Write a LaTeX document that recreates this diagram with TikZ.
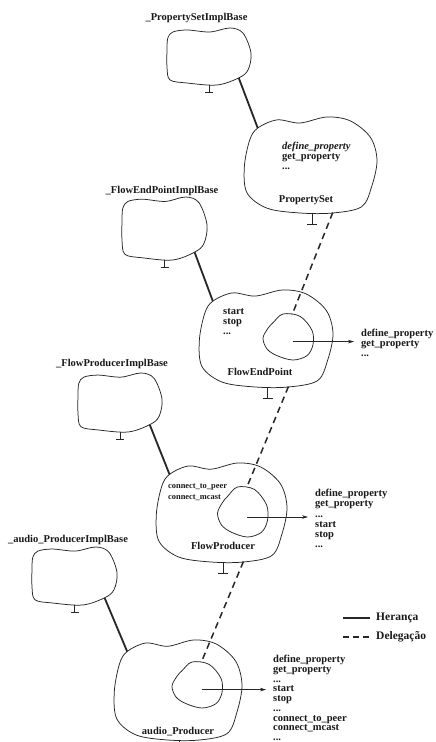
\documentclass[tikz,border=0pt]{standalone}
\usepackage{fontspec}
\setmainfont{Liberation Serif}
\usetikzlibrary{arrows.meta}

\newcommand\lbl{\bfseries\fontsize{10.5}{10.1}\selectfont}
\newcommand\tightlbl{\bfseries\fontsize{10.5}{9.7}\selectfont}
\newcommand\smalllbl{\bfseries\fontsize{8.4}{11}\selectfont}
\newcommand\leglbl{\bfseries\fontsize{11.5}{12}\selectfont}

\tikzset{
  every node/.style={inner sep=0pt, font=\lbl, text=black!90},
  cloudline/.style={line width=0.75pt, black!85},
  inherit/.style={line width=1.8pt, black!85},
  deleg/.style={line width=1.5pt, dash pattern=on 6.5pt off 4.5pt, black!85},
  tickmark/.style={line width=0.7pt, black!85},
  export/.style={line width=0.7pt, black!85, -{Stealth[length=6pt,width=3.6pt]}, shorten >=7pt},
}

% base class: small blob with a tick below
\newcommand\smallcloud[4]{%
  \begin{scope}[shift={#2}, xscale=#3, yscale=#4]
    \draw[cloudline] plot[smooth cycle, tension=0.55] coordinates {
      (-0.98,-0.65) (-0.86,-0.86) (-0.52,-0.93) (0.02,-0.86) (0.5,-1.0)
      (0.81,-0.82) (1.0,-0.12) (0.93,0.47) (0.71,0.75) (0.19,1.0)
      (-0.52,0.93) (-0.93,0.82) (-1.0,0.37) (-1.0,-0.23)};
    \coordinate (#1-se) at (0.71,0.76);
    \coordinate (#1-s) at (0,0.99);
  \end{scope}
  \draw[tickmark] (#1-s) -- ++(0,8) ++(-4,0) -- ++(8,0);
}

% derived class: large blob with a tick below
\newcommand\bigcloud[4]{%
  \begin{scope}[shift={#2}, xscale=#3, yscale=#4]
    \draw[cloudline] plot[smooth cycle, tension=0.55] coordinates {
      (-0.78,-0.77) (-0.49,-0.94) (-0.15,-0.875) (0.25,-1.0) (0.6,-0.92)
      (0.9,-0.58) (1.0,-0.1) (0.92,0.45) (0.77,0.87) (0.34,1.0)
      (-0.15,1.0) (-0.64,0.9) (-0.94,0.58) (-0.98,0.04) (-0.9,-0.52)};
    \coordinate (#1-nw) at (-0.78,-0.77);
    \coordinate (#1-dl) at (0.34,0.99);
    \coordinate (#1-s) at (0.03,0.99);
  \end{scope}
  \draw[tickmark] (#1-s) -- ++(0,12) ++(-5,0) -- ++(10,0);
}

% delegate object held inside a class
\newcommand\innercloud[4]{%
  \begin{scope}[shift={#2}, xscale=#3, yscale=#4]
    \draw[cloudline] plot[smooth cycle, tension=0.55] coordinates {
      (-0.6,-0.62) (-0.2,-1.0) (0.48,-0.9) (0.96,-0.29) (1.0,0.33)
      (0.76,0.81) (0.2,1.0) (-0.44,0.81) (-0.84,0.52) (-1.0,0.05) (-0.8,-0.38)};
    \coordinate (#1-n) at (0.16,-0.96);
    \coordinate (#1-c) at (0.18,0.2);
  \end{scope}
}

\begin{document}
\begin{tikzpicture}[x=1pt, y=-1pt]
  \useasboundingbox[fill=white] (0,0) rectangle (436,742);

  % ---- PropertySet ----
  \node (psb-lbl) at (196.5,18) {\_PropertySetImplBase};
  \smallcloud{psb}{(209,56.5)}{42}{28.5}
  \bigcloud{ps}{(310,165)}{67}{48}
  \node[anchor=west, align=left] (ps-ops) at (282,156)
    {\textit{define\_property}\\get\_property\\...};
  \node (ps-name) at (306,200) {PropertySet};
  \draw[inherit] (psb-se) -- (ps-nw);

  % ---- FlowEndPoint ----
  \node (fepb-lbl) at (162,191) {\_FlowEndPointImplBase};
  \smallcloud{fepb}{(164.5,228.5)}{42.5}{31.5}
  \bigcloud{fep}{(265.5,338.5)}{67.5}{48.5}
  \innercloud{fepi}{(288,337)}{25}{23}
  \node[anchor=west, align=left] (fep-ops) at (223,322) {start\\stop\\...};
  \node (fep-name) at (260,372) {FlowEndPoint};
  \node[anchor=west, align=left] (fep-exp) at (361,342.5)
    {define\_property\\get\_property\\...};
  \draw[inherit] (fepb-se) -- (fep-nw);
  \draw[export] (fepi-c) -- (fepi-c -| fep-exp.west);
  \draw[deleg] (ps-dl) -- (fepi-n);

  % ---- FlowProducer ----
  \node (fpb-lbl) at (112,364) {\_FlowProducerImplBase};
  \smallcloud{fpb}{(120,402.5)}{42}{29.5}
  \bigcloud{fp}{(221,512.5)}{66}{49.5}
  \innercloud{fpi}{(242.5,512)}{25}{25}
  \node[anchor=west, align=left, font=\smalllbl] (fp-ops) at (168,492.5)
    {connect\_to\_peer\\connect\_mcast};
  \node (fp-name) at (223,546) {FlowProducer};
  \node[anchor=west, align=left] (fp-exp) at (315,518.5)
    {define\_property\\get\_property\\...\\start\\stop\\...};
  \draw[inherit] (fpb-se) -- (fp-nw);
  \draw[export] (fpi-c) -- (fpi-c -| fp-exp.west);
  \draw[deleg] (fep-dl) -- (fpi-n);

  % ---- audio_Producer ----
  \node (apb-lbl) at (68,540) {\_audio\_ProducerImplBase};
  \smallcloud{apb}{(74.5,576)}{42.5}{29}
  \bigcloud{ap}{(177.5,690)}{64.5}{50}
  \innercloud{api}{(197,685)}{25}{23}
  \node (ap-name) at (178,732) {audio\_Producer};
  \node[anchor=west, align=left, font=\tightlbl] (ap-exp) at (273,698)
    {define\_property\\get\_property\\...\\start\\stop\\...\\connect\_to\_peer\\connect\_mcast\\...};
  \draw[inherit] (apb-se) -- (ap-nw);
  \draw[export] (api-c) -- (api-c -| ap-exp.west);
  \draw[deleg] (fp-dl) -- (api-n);

  % ---- legend ----
  \coordinate (leg-inh) at (343,618);
  \coordinate (leg-del) at (343,637);
  \node[anchor=west, font=\leglbl] (leg-inh-lbl) at (376,618) {Herança};
  \node[anchor=west, font=\leglbl] (leg-del-lbl) at (376,637) {Delegação};
  \draw[inherit, line width=1.3pt, shorten >=6pt] (leg-inh) -- (leg-inh-lbl.west);
  \draw[deleg, line width=1.3pt, dash pattern=on 6pt off 4pt, shorten >=6pt] (leg-del) -- (leg-del-lbl.west);
\end{tikzpicture}
\end{document}
